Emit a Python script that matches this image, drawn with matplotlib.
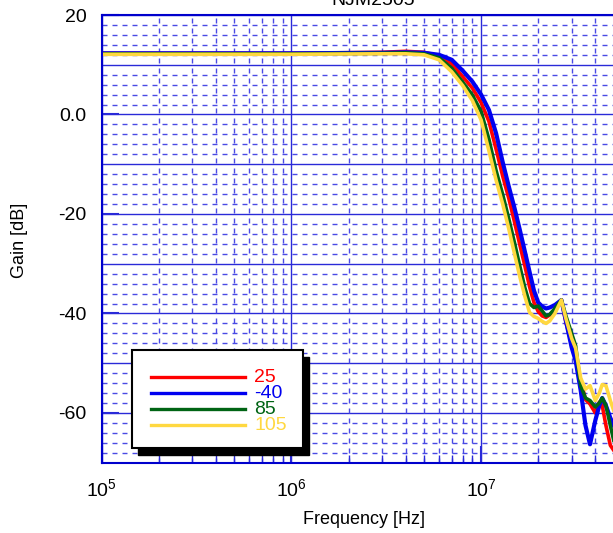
import matplotlib

matplotlib.use("Agg")
import matplotlib.pyplot as plt
import numpy as np
from matplotlib.lines import Line2D
from matplotlib.patches import Rectangle
from matplotlib.ticker import FixedLocator, NullFormatter

plt.rcParams["font.family"] = ["Liberation Sans", "DejaVu Sans"]
plt.rcParams["mathtext.default"] = "regular"

# frequency grid (Hz) shared by all temperature sweeps
freq = [1e5, 1e6, 3e6, 4e6, 5e6, 6e6, 7e6, 8e6, 9e6, 1e7, 1.1e7, 1.2e7, 1.3e7,
        1.4e7, 1.5e7, 1.6e7, 1.7e7, 1.8e7, 1.9e7, 2e7, 2.1e7, 2.2e7, 2.3e7,
        2.45e7, 2.65e7, 2.8e7, 3e7, 3.15e7, 3.35e7, 3.55e7, 3.75e7, 4e7,
        4.2e7, 4.35e7, 4.55e7, 4.8e7, 5e7]

gain_25 = [12.3, 12.3, 12.5, 12.7, 12.5, 11.8, 10.2, 7.6, 5.3, 2.4, -1.4, -7.0,
           -12.4, -16.9, -21.6, -26.2, -30.4, -34.6, -37.8, -39.6, -40.5, -40.8,
           -40.3, -39.2, -37.3, -41.8, -46.0, -48.5, -53.5, -57.3, -58.2, -60.0,
           -57.8, -58.5, -62.5, -66.5, -67.5]
gain_m40 = [12.3, 12.3, 12.4, 12.5, 12.4, 12.0, 11.0, 8.8, 6.6, 4.0, 0.9, -3.8,
            -9.6, -14.5, -18.8, -23.2, -27.5, -31.6, -35.4, -37.8, -38.6, -39.0,
            -38.8, -38.3, -37.3, -41.5, -46.8, -49.5, -55.5, -62.5, -66.3, -61.5,
            -58.5, -57.0, -58.5, -61.0, -62.5]
gain_85 = [12.2, 12.2, 12.3, 12.4, 12.2, 11.4, 9.3, 6.5, 3.9, 0.6, -5.0, -11.3,
           -16.1, -21.0, -25.8, -30.5, -34.8, -38.0, -38.8, -38.5, -39.5, -40.5,
           -40.2, -39.0, -37.3, -40.5, -44.0, -46.5, -54.5, -57.0, -57.5, -58.8,
           -58.0, -57.0, -58.5, -62.5, -65.5]
gain_105 = [12.1, 12.1, 12.2, 12.2, 12.0, 11.0, 8.6, 5.8, 2.8, -1.1, -7.3, -13.2,
            -18.0, -23.0, -28.0, -32.6, -36.5, -39.8, -40.6, -41.0, -41.6, -42.0,
            -41.5, -40.0, -37.3, -41.0, -45.0, -47.0, -53.0, -55.2, -54.5, -57.5,
            -56.0, -54.3, -54.5, -57.5, -59.5]

temps = ["25", "-40", "85", "105"]
colors = ["#FF0000", "#0000F0", "#006414", "#FFD840"]
widths = [2.6, 3.0, 2.6, 2.6]
series = [gain_25, gain_m40, gain_85, gain_105]

W, H = 613, 533
fig = plt.figure(figsize=(W / 100, H / 100), dpi=100)


def px(x, y):
    return x / W, 1 - y / H


left, top, bottom = 101.7, 15.0, 462.7
right = 101.7 + np.log10(5e7 / 1e5) * 189.7
ax = fig.add_axes([left / W, 1 - bottom / H, (right - left) / W, (bottom - top) / H])

for gains, c, lw in zip(series, colors, widths):
    ax.plot(freq, gains, color=c, linewidth=lw)

ax.set_xscale("log")
ax.set_xlim(1e5, 5e7)
ax.set_ylim(-70, 20)

grid_major = "#2a2ad8"
grid_minor = "#4a4ae4"
ax.yaxis.set_major_locator(FixedLocator([20, 0, -20, -40, -60]))
ax.set_yticklabels(["20", "0.0", "-20", "-40", "-60"])
ax.yaxis.set_minor_locator(FixedLocator(np.arange(-70, 21, 2)))
ax.xaxis.set_major_locator(FixedLocator([1e5, 1e6, 1e7]))
ax.set_xticklabels(["$10^5$", "$10^6$", "$10^7$"])
minor_x = [m * 10 ** d for d in (5, 6, 7) for m in range(2, 10)]
ax.xaxis.set_minor_locator(FixedLocator(minor_x))
ax.xaxis.set_minor_formatter(NullFormatter())

for yv in np.arange(-70, 21, 10):
    ax.axhline(yv, color=grid_major, linewidth=1.0, zorder=0.5)
for yv in np.arange(-70, 21, 2):
    if yv % 10:
        ax.axhline(yv, color=grid_minor, linewidth=1.0, linestyle=(0, (3.6, 3.6)), zorder=0.5)
for xv in [1e5, 1e6, 1e7]:
    ax.axvline(xv, color=grid_major, linewidth=1.0, zorder=0.5)
for xv in minor_x:
    ax.axvline(xv, color=grid_minor, linewidth=1.0, linestyle=(0, (3.6, 3.6)), zorder=0.5)

ax.tick_params(axis="both", which="major", direction="in", labelsize=14,
               color=grid_major, width=1.5, length=12, pad=11)
ax.tick_params(axis="x", which="minor", direction="in", color=grid_major, width=1.0, length=6)
ax.tick_params(axis="y", which="minor", length=0)
for side in ("left", "bottom", "top"):
    ax.spines[side].set_color("#0000cc")
    ax.spines[side].set_linewidth(1.5)
ax.spines["right"].set_visible(False)

ax.set_xlabel("Frequency [Hz]", fontsize=13)
ax.xaxis.set_label_coords((364 - left) / (right - left), -(519 - bottom) / (bottom - top))
ax.xaxis.label.set_verticalalignment("center")
ax.set_ylabel("Gain [dB]", fontsize=13)
ax.yaxis.set_label_coords(-(left - 19) / (right - left), (bottom - 240) / (bottom - top))
ax.yaxis.label.set_verticalalignment("center")

# title sits mostly above the top edge, as in the cropped original
fig.text(*px(373, 5), "NJM2505", ha="center", va="baseline", fontsize=14)

# legend box with hard black drop shadow
bx0, by0, bx1, by1 = 132, 350, 303, 448
sx, sy = 6, 7
x0, y0 = px(bx0 + sx, by1 + sy)
fig.add_artist(Rectangle((x0, y0), (bx1 - bx0) / W, (by1 - by0) / H,
                         transform=fig.transFigure, facecolor="black", edgecolor="black", zorder=5))
x0, y0 = px(bx0, by1)
fig.add_artist(Rectangle((x0, y0), (bx1 - bx0) / W, (by1 - by0) / H,
                         transform=fig.transFigure, facecolor="white", edgecolor="black",
                         linewidth=1.5, zorder=6))
for i, (label, c) in enumerate(zip(temps, colors)):
    yy = 377.3 + 16 * i
    xa, ya = px(151, yy)
    xb, _ = px(245, yy)
    fig.add_artist(Line2D([xa, xb], [ya, ya], transform=fig.transFigure, color=c,
                          linewidth=2.4, zorder=7))
    xt, yt = px(254, yy)
    fig.text(xt, yt, label, color=c, fontsize=14, ha="left", va="center", zorder=7)

fig.savefig("out.png", dpi=100)
